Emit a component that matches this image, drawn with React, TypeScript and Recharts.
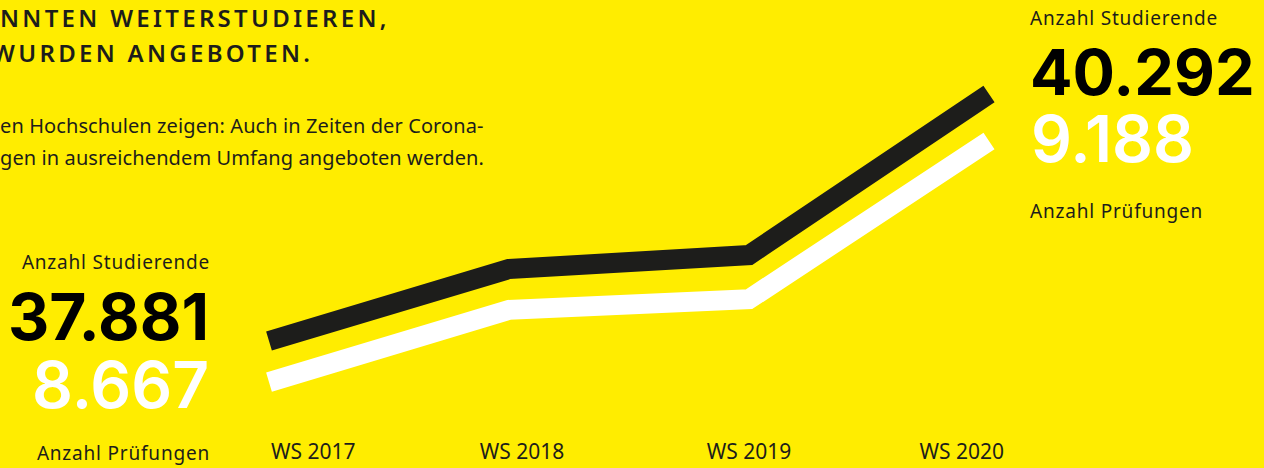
import { LineChart, Line, XAxis, YAxis } from "recharts";

// Semester und Werte (Studierende / Prüfungen)
const semester = ["WS 2017", "WS 2018", "WS 2019", "WS 2020"];
const studierende = [37881, 38584, 38720, 40292];
const pruefungen = [8667, 8823, 8846, 9188];

const titelZeilen = ["NNTEN WEITERSTUDIEREN,", "WURDEN ANGEBOTEN."];
const textZeilen = [
  "en Hochschulen zeigen: Auch in Zeiten der Corona-",
  "gen in ausreichendem Umfang angeboten werden.",
];

const GELB = "#FFED00";
const DUNKEL = "#1d1d1b";
const schrift = "'Noto Sans', sans-serif";
const zahlSchrift = "Inter, sans-serif";

const daten = semester.map((s, i) => ({
  semester: s,
  studierende: studierende[i],
  pruefungen: pruefungen[i],
}));

const fmt = (n: number) => n.toLocaleString("de-DE");

// Achsenbeschriftung: wie "space-between" verteilt
const tickVersatz = [2, 13, 0, 15];
function SemesterTick(props: any) {
  const { x, y, payload, index } = props;
  const anchor = index === 0 ? "start" : index === semester.length - 1 ? "end" : "middle";
  return (
    <text
      x={x + tickVersatz[index]}
      y={y}
      dy={31}
      textAnchor={anchor}
      fill={DUNKEL}
      fontFamily={schrift}
      fontSize={21}
    >
      {payload.value}
    </text>
  );
}

export default function App() {
  const erster = 0;
  const letzter = semester.length - 1;
  return (
    <div
      style={{
        position: "absolute",
        left: 0,
        top: 0,
        width: 1264,
        height: 468,
        background: GELB,
        overflow: "hidden",
      }}
    >
      <svg width={1264} height={468} style={{ position: "absolute", left: 0, top: 0 }}>
        {titelZeilen.map((t, i) => (
          <text
            key={t}
            x={i === 0 ? 0 : -8}
            y={27 + i * 35}
            fill={DUNKEL}
            fontFamily={schrift}
            fontWeight={600}
            fontSize={24}
            letterSpacing={3.3}
          >
            {t}
          </text>
        ))}
        {textZeilen.map((t, i) => (
          <text
            key={t}
            x={0}
            y={133 + i * 32}
            fill={DUNKEL}
            fontFamily={schrift}
            fontSize={20}
            letterSpacing={0.1}
          >
            {t}
          </text>
        ))}

        {/* links: WS 2017 */}
        <g textAnchor="end" fontFamily={schrift}>
          <text x={210} y={269} fontSize={19} letterSpacing={0.8} fill={DUNKEL}>
            Anzahl Studierende
          </text>
          <text x={209} y={340} fontSize={64} fontWeight={700} fontFamily={zahlSchrift} fill="#000">
            {fmt(studierende[erster])}
          </text>
          <text x={209} y={408} fontSize={64} fontWeight={600} fontFamily={zahlSchrift} fill="#fff">
            {fmt(pruefungen[erster])}
          </text>
          <text x={210} y={460} fontSize={19} letterSpacing={0.8} fill={DUNKEL}>
            Anzahl Prüfungen
          </text>
        </g>

        {/* rechts: WS 2020 */}
        <g textAnchor="start" fontFamily={schrift}>
          <text x={1030} y={25} fontSize={19} letterSpacing={0.8} fill={DUNKEL}>
            Anzahl Studierende
          </text>
          <text x={1030} y={95} fontSize={63} fontWeight={700} fontFamily={zahlSchrift} fill="#000">
            {fmt(studierende[letzter])}
          </text>
          <text x={1031} y={162} fontSize={64} fontWeight={600} fontFamily={zahlSchrift} fill="#fff">
            {fmt(pruefungen[letzter])}
          </text>
          <text x={1030} y={218} fontSize={19} letterSpacing={0.8} fill={DUNKEL}>
            Anzahl Prüfungen
          </text>
        </g>
      </svg>

      <div style={{ position: "absolute", left: 0, top: 0 }}>
        <LineChart
          width={1264}
          height={468}
          data={daten}
          margin={{ top: 60, right: 275, bottom: 0, left: 269 }}
        >
          <XAxis
            dataKey="semester"
            height={48}
            axisLine={false}
            tickLine={false}
            interval={0}
            tick={<SemesterTick />}
          />
          <YAxis yAxisId="s" hide domain={[37110, 40624]} />
          <YAxis yAxisId="p" hide domain={[8585, 9363]} />
          <Line
            yAxisId="s"
            type="linear"
            dataKey="studierende"
            stroke={DUNKEL}
            strokeWidth={20}
            strokeLinecap="butt"
            dot={false}
            activeDot={false}
            isAnimationActive={false}
          />
          <Line
            yAxisId="p"
            type="linear"
            dataKey="pruefungen"
            stroke="#ffffff"
            strokeWidth={20}
            strokeLinecap="butt"
            dot={false}
            activeDot={false}
            isAnimationActive={false}
          />
        </LineChart>
      </div>
    </div>
  );
}
